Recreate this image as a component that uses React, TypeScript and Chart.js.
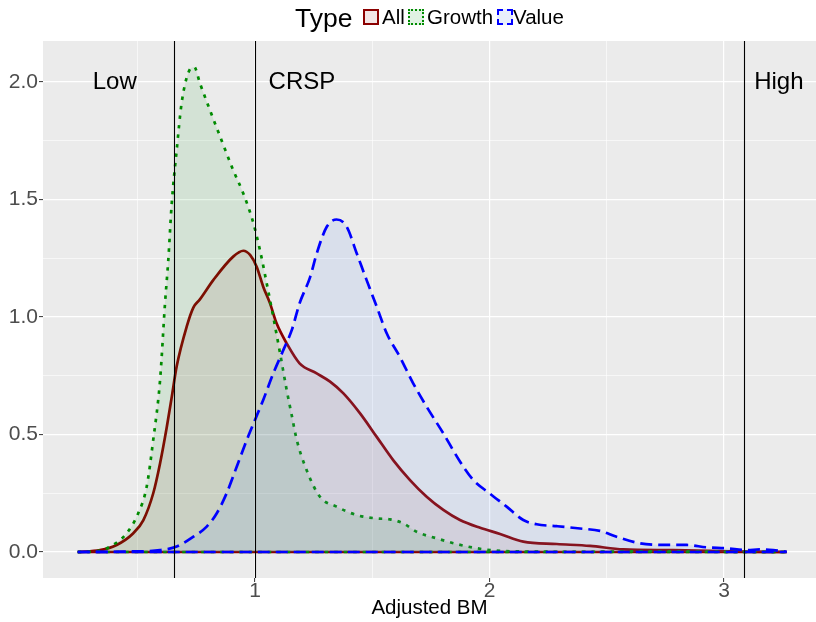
import React, { useEffect, useRef } from 'react';
import { Chart, registerables } from 'chart.js';

Chart.register(...registerables);

// ---- data ----
const seriesNames = ['All', 'Growth', 'Value'];

const allX = [0.244, 0.339, 0.41, 0.481, 0.524, 0.566, 0.595, 0.624, 0.645, 0.666, 0.709, 0.737, 0.765, 0.822, 0.907, 0.95, 0.979, 1.007, 1.035, 1.064, 1.092, 1.135, 1.19, 1.263, 1.32, 1.377, 1.448, 1.519, 1.59, 1.661, 1.732, 1.803, 1.874, 1.96, 2.045, 2.144, 2.287, 2.429, 2.571, 2.784, 3.068, 3.267];
const allY = [0, 0.008, 0.03, 0.08, 0.136, 0.25, 0.377, 0.533, 0.66, 0.79, 0.96, 1.04, 1.075, 1.157, 1.257, 1.282, 1.264, 1.214, 1.129, 1.058, 0.973, 0.888, 0.803, 0.76, 0.725, 0.675, 0.59, 0.49, 0.39, 0.306, 0.235, 0.179, 0.136, 0.103, 0.077, 0.044, 0.034, 0.026, 0.011, 0.008, 0.002, 0];

const growthX = [0.244, 0.34, 0.382, 0.453, 0.502, 0.538, 0.566, 0.595, 0.616, 0.63, 0.645, 0.666, 0.687, 0.716, 0.741, 0.765, 0.808, 0.858, 0.907, 0.95, 0.993, 1.021, 1.05, 1.078, 1.107, 1.135, 1.157, 1.178, 1.22, 1.277, 1.348, 1.434, 1.519, 1.576, 1.632, 1.689, 1.775, 1.86, 1.945, 2.03, 2.15, 2.4, 2.7, 3.0, 3.267];
const growthY = [0, 0.006, 0.023, 0.08, 0.165, 0.278, 0.477, 0.73, 1.055, 1.24, 1.485, 1.71, 1.91, 2.04, 2.064, 1.995, 1.88, 1.75, 1.625, 1.526, 1.4, 1.285, 1.143, 1.0, 0.845, 0.69, 0.58, 0.477, 0.349, 0.235, 0.193, 0.157, 0.143, 0.139, 0.122, 0.086, 0.058, 0.034, 0.016, 0.006, 0.002, 0.001, 0.003, 0.001, 0];

const valueX = [0.244, 0.45, 0.595, 0.666, 0.737, 0.794, 0.837, 0.879, 0.922, 0.965, 1.0, 1.035, 1.078, 1.121, 1.157, 1.19, 1.235, 1.263, 1.306, 1.348, 1.391, 1.434, 1.476, 1.519, 1.562, 1.618, 1.675, 1.732, 1.803, 1.874, 1.931, 2.0, 2.073, 2.144, 2.201, 2.287, 2.386, 2.471, 2.542, 2.642, 2.741, 2.841, 2.926, 3.011, 3.097, 3.154, 3.21, 3.267];
const valueY = [0, 0.002, 0.008, 0.023, 0.065, 0.108, 0.165, 0.25, 0.363, 0.477, 0.562, 0.647, 0.76, 0.86, 0.945, 1.058, 1.17, 1.27, 1.384, 1.415, 1.384, 1.27, 1.157, 1.044, 0.93, 0.83, 0.717, 0.618, 0.505, 0.385, 0.306, 0.25, 0.193, 0.136, 0.118, 0.11, 0.1, 0.09, 0.065, 0.037, 0.03, 0.03, 0.02, 0.016, 0.008, 0.011, 0.008, 0.001];

const xTicks = [0.5, 1, 1.5, 2, 2.5, 3];
const xTickLabels = ['', '1', '', '2', '', '3'];
const yTicks = [0, 0.25, 0.5, 0.75, 1, 1.25, 1.5, 1.75, 2];
const yTickLabels = ['0.0', '', '0.5', '', '1.0', '', '1.5', '', '2.0'];

const cutLines = [0.655, 1.0, 3.085];
const regionNames = ['Low', 'CRSP', 'High'];
const regionX = [0.402, 1.2, 3.234];
const regionY = 2.0;

const xTitle = 'Adjusted BM';
const legendTitle = 'Type';

// ---- styles ----
const FONT = '"Liberation Sans", Arial, Helvetica, sans-serif';
const lineColors = ['#8B0000', '#008B00', '#0000FF'];
const fillColors = ['rgba(139,0,0,0.075)', 'rgba(0,150,20,0.1)', 'rgba(100,149,237,0.13)'];
const keyFills = ['rgba(139,0,0,0.1)', 'rgba(0,150,20,0.12)', 'rgba(100,149,237,0.15)'];
const dashes: number[][] = [[], [3.5, 6], [12, 6]];
const LW = 2.7;

const toPts = (xs: number[], ys: number[]) => xs.map((x, i) => ({ x, y: ys[i] }));

const panelBg = {
  id: 'panelBg',
  beforeDraw(chart: any) {
    const { ctx, chartArea: a } = chart;
    ctx.save();
    ctx.fillStyle = '#EBEBEB';
    ctx.fillRect(a.left, a.top, a.right - a.left, a.bottom - a.top);
    ctx.restore();
  },
};

const overlay = {
  id: 'overlay',
  afterDatasetsDraw(chart: any) {
    const { ctx, chartArea: a, scales } = chart;
    const xs = scales.x;
    const ys = scales.y;
    ctx.save();
    ctx.beginPath();
    ctx.rect(a.left, a.top, a.right - a.left, a.bottom - a.top);
    ctx.clip();
    ctx.strokeStyle = '#000000';
    ctx.lineWidth = 1.1;
    cutLines.forEach((v) => {
      const px = Math.round(xs.getPixelForValue(v)) + 0.5;
      ctx.beginPath();
      ctx.moveTo(px, a.top);
      ctx.lineTo(px, a.bottom);
      ctx.stroke();
    });
    ctx.fillStyle = '#000000';
    ctx.font = `24px ${FONT}`;
    ctx.textAlign = 'center';
    ctx.textBaseline = 'middle';
    regionNames.forEach((t, i) => {
      ctx.fillText(t, xs.getPixelForValue(regionX[i]), ys.getPixelForValue(regionY));
    });
    ctx.restore();
  },
};

export default function App() {
  const ref = useRef<HTMLCanvasElement | null>(null);

  useEffect(() => {
    if (!ref.current) return;
    const curves = [toPts(allX, allY), toPts(growthX, growthY), toPts(valueX, valueY)];
    const ds: any[] = [];
    // Chart.js draws first dataset on top, so list Value first
    [2, 1, 0].forEach((i) => {
      ds.push({
        label: seriesNames[i] + ' base',
        data: [
          { x: curves[i][0].x, y: 0 },
          { x: curves[i][curves[i].length - 1].x, y: 0 },
        ],
        borderColor: lineColors[i],
        borderWidth: LW,
        borderDash: dashes[i],
        pointRadius: 0,
        fill: false,
      });
      ds.push({
        label: seriesNames[i],
        data: curves[i],
        borderColor: lineColors[i],
        backgroundColor: fillColors[i],
        borderWidth: LW,
        borderDash: dashes[i],
        pointRadius: 0,
        cubicInterpolationMode: 'monotone',
        fill: 'origin',
      });
    });

    const chart = new Chart(ref.current, {
      type: 'line',
      data: { datasets: ds },
      plugins: [panelBg, overlay],
      options: {
        animation: false,
        responsive: false,
        devicePixelRatio: 1,
        layout: { padding: { top: 41, left: 0, right: 0, bottom: 0 } },
        plugins: {
          legend: { display: false },
          tooltip: { enabled: false },
        },
        scales: {
          x: {
            type: 'linear',
            min: 0.0959,
            max: 3.3923,
            afterBuildTicks: (s: any) => {
              s.ticks = xTicks.map((v) => ({ value: v }));
            },
            afterFit: (s: any) => {
              s.height = 44;
            },
            ticks: {
              autoSkip: false,
              maxRotation: 0,
              color: '#4D4D4D',
              font: { family: FONT, size: 21 },
              padding: -3,
              callback: (v: any, i: number) => xTickLabels[i],
            },
            grid: {
              color: '#FFFFFF',
              lineWidth: (c: any) => (xTickLabels[c.index] ? 1.2 : 0.6),
              tickColor: (c: any) => (xTickLabels[c.index] ? '#333333' : 'rgba(0,0,0,0)'),
              tickLength: 4,
              tickWidth: 1,
            },
            border: { display: false },
            title: {
              display: true,
              text: xTitle,
              color: '#000000',
              font: { family: FONT, size: 20.5 },
              padding: { top: 0, bottom: 1 },
            },
          },
          y: {
            type: 'linear',
            min: -0.1106,
            max: 2.1745,
            afterBuildTicks: (s: any) => {
              s.ticks = yTicks.map((v) => ({ value: v }));
            },
            afterFit: (s: any) => {
              s.width = 43;
            },
            ticks: {
              autoSkip: false,
              color: '#4D4D4D',
              font: { family: FONT, size: 21 },
              padding: 1,
              callback: (v: any, i: number) => yTickLabels[i],
            },
            grid: {
              color: '#FFFFFF',
              lineWidth: (c: any) => (yTickLabels[c.index] ? 1.2 : 0.6),
              tickColor: (c: any) => (yTickLabels[c.index] ? '#333333' : 'rgba(0,0,0,0)'),
              tickLength: 4,
              tickWidth: 1,
            },
            border: { display: false },
          },
        },
      } as any,
    });
    return () => chart.destroy();
  }, []);

  const legendItems = [
    { left: 363, textLeft: 382, border: 'solid' },
    { left: 408, textLeft: 427, border: 'dotted' },
    { left: 497, textLeft: 513, border: 'dashed' },
  ];

  return (
    <div style={{ position: 'absolute', left: 0, top: 0, width: 816, height: 622, background: '#FFFFFF', fontFamily: FONT }}>
      <canvas ref={ref} width={816} height={622} style={{ position: 'absolute', left: 0, top: 0 }} />
      <span style={{ position: 'absolute', left: 295, top: 0, height: 36, lineHeight: '36px', fontSize: 26.5, color: '#000' }}>{legendTitle}</span>
      {legendItems.map((it, i) => (
        <React.Fragment key={i}>
          <div
            style={{
              position: 'absolute',
              left: it.left,
              top: 9,
              width: 16,
              height: 16,
              boxSizing: 'border-box',
              border: `2.5px ${it.border} ${lineColors[i]}`,
              background: keyFills[i],
            }}
          />
          <span style={{ position: 'absolute', left: it.textLeft, top: 0, height: 34, lineHeight: '34px', fontSize: 20.5, color: '#000' }}>
            {seriesNames[i]}
          </span>
        </React.Fragment>
      ))}
    </div>
  );
}
